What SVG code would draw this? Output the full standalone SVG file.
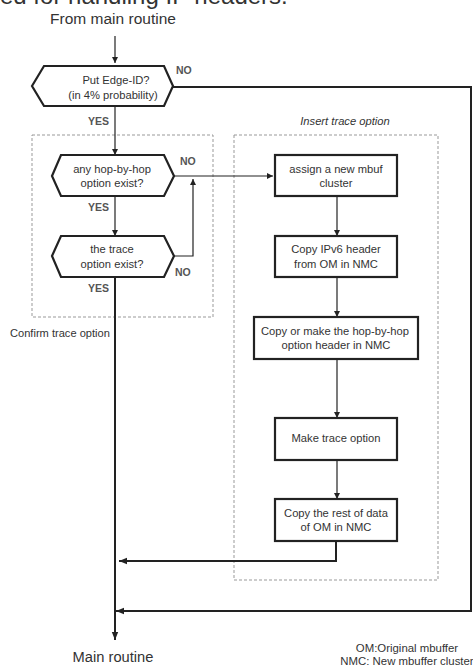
<svg xmlns="http://www.w3.org/2000/svg" width="473" height="667" viewBox="0 0 473 667">
  <defs>
    <marker id="arr" viewBox="0 0 10 10" refX="10" refY="5" markerWidth="6" markerHeight="7" markerUnits="userSpaceOnUse" orient="auto">
      <path d="M0,0 L10,5 L0,10 z" fill="#222"/>
    </marker>
    <marker id="arrBig" viewBox="0 0 10 10" refX="10" refY="5" markerWidth="8" markerHeight="8" markerUnits="userSpaceOnUse" orient="auto">
      <path d="M0,1 L10,5 L0,9 z" fill="#222"/>
    </marker>
  </defs>
  <style>
    text { font-family: "Liberation Sans", Arial, sans-serif; fill: #333; }
    .node { fill: #fff; stroke: #222; stroke-width: 2.2; }
    .lbl { font-size: 11.2px; text-anchor: middle; }
    .yn { font-size: 10.5px; font-weight: bold; fill: #555; }
    .group { fill: none; stroke: #999; stroke-width: 1; stroke-dasharray: 3 2; }
    .thin { fill: none; stroke: #222; stroke-width: 1.2; }
    .thick { fill: none; stroke: #222; stroke-width: 2; }
  </style>
  <rect width="473" height="667" fill="#fff"/>

  <!-- heading (partly outside the canvas) -->
  <text x="0" y="4" font-size="24">ed for handling IP  headers.</text>
  <text x="113" y="24" font-size="15.5" text-anchor="middle">From main routine</text>

  <!-- dashed groups -->
  <g id="confirm-group">
    <rect class="group" x="32" y="135" width="181" height="182"/>
    <text x="10" y="337" font-size="11.1">Confirm trace option</text>
  </g>
  <g id="insert-group">
    <rect class="group" x="234" y="135" width="204" height="445"/>
    <text x="345" y="125" font-size="11.2" font-style="italic" text-anchor="middle">Insert trace option</text>
  </g>

  <!-- connectors -->
  <g id="connectors">
    <line class="thin" x1="115" y1="36" x2="115" y2="63" marker-end="url(#arr)"/>
    <line class="thin" x1="115" y1="106" x2="115" y2="155" marker-end="url(#arr)"/>
    <line class="thin" x1="115" y1="196" x2="115" y2="236" marker-end="url(#arr)"/>
    <line class="thin" x1="174" y1="176" x2="273" y2="176" marker-end="url(#arr)" stroke-width="1.5"/>
    <polyline class="thin" points="174,256 193,256 193,179" marker-end="url(#arr)"/>
    <line class="thick" x1="115" y1="277" x2="115" y2="640" marker-end="url(#arrBig)"/>
    <polyline class="thick" points="173,87 471,87 471,611 116,611" marker-end="url(#arrBig)"/>
    <line class="thin" x1="337" y1="196" x2="337" y2="236" marker-end="url(#arr)"/>
    <line class="thin" x1="337" y1="277" x2="337" y2="317" marker-end="url(#arr)"/>
    <line class="thin" x1="337" y1="359" x2="337" y2="418" marker-end="url(#arr)"/>
    <line class="thin" x1="337" y1="460" x2="337" y2="499" marker-end="url(#arr)"/>
    <polyline class="thick" points="336,541 336,561 119,561" marker-end="url(#arrBig)"/>
    <text class="yn" x="176" y="74">NO</text>
    <text class="yn" x="88" y="125">YES</text>
    <text class="yn" x="180" y="165">NO</text>
    <text class="yn" x="88" y="211">YES</text>
    <text class="yn" x="175" y="276">NO</text>
    <text class="yn" x="88" y="292">YES</text>
  </g>

  <!-- decisions -->
  <g id="put-edge-id">
    <polygon class="node" points="32,86 44,66 164,66 173,86 164,106 44,106"/>
    <text class="lbl" x="116" y="84">Put Edge-ID?</text>
    <text class="lbl" x="113" y="99">(in 4% probability)</text>
  </g>
  <g id="hop-by-hop-exist">
    <polygon class="node" points="52,176 61,155 164,155 174,176 164,196 61,196"/>
    <text class="lbl" x="112" y="173">any hop-by-hop</text>
    <text class="lbl" x="112" y="187">option exist?</text>
  </g>
  <g id="trace-exist">
    <polygon class="node" points="52,256 61,236 164,236 174,256 164,277 61,277"/>
    <text class="lbl" x="112" y="253">the trace</text>
    <text class="lbl" x="112" y="268">option exist?</text>
  </g>

  <!-- processes -->
  <g id="assign-cluster">
    <rect class="node" x="275" y="155" width="122" height="41"/>
    <text class="lbl" x="336" y="173">assign a new mbuf</text>
    <text class="lbl" x="336" y="187">cluster</text>
  </g>
  <g id="copy-ipv6">
    <rect class="node" x="275" y="236" width="122" height="41"/>
    <text class="lbl" x="336" y="253">Copy IPv6 header</text>
    <text class="lbl" x="336" y="268">from OM in NMC</text>
  </g>
  <g id="copy-hbh">
    <rect class="node" x="254" y="317" width="164" height="42"/>
    <text class="lbl" x="335" y="335">Copy or make the hop-by-hop</text>
    <text class="lbl" x="336" y="349">option header in NMC</text>
  </g>
  <g id="make-trace">
    <rect class="node" x="275" y="418" width="122" height="42"/>
    <text class="lbl" x="336" y="442">Make trace option</text>
  </g>
  <g id="copy-rest">
    <rect class="node" x="275" y="499" width="122" height="42"/>
    <text class="lbl" x="336" y="517">Copy the rest of data</text>
    <text class="lbl" x="336" y="531">of OM in NMC</text>
  </g>

  <text x="113" y="662" font-size="14.7" text-anchor="middle">Main routine</text>
  <text x="407" y="652" font-size="11.4" text-anchor="middle">OM:Original mbuffer</text>
  <text x="407" y="665" font-size="11.4" text-anchor="middle">NMC: New mbuffer cluster</text>
</svg>
